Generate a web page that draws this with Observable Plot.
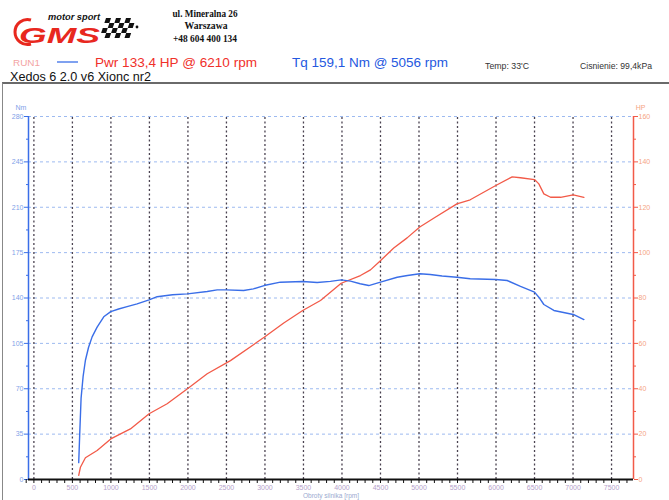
<!DOCTYPE html>
<html>
<head>
<meta charset="utf-8">
<script src="https://cdn.jsdelivr.net/npm/d3@7"></script>
<script src="https://cdn.jsdelivr.net/npm/@observablehq/plot@0.6"></script>
<style>
  html, body { margin: 0; padding: 0; background: #fff; }
  #page { position: relative; width: 669px; height: 500px; overflow: hidden; background: #fff; font-family: "Liberation Sans", Arial, sans-serif; }
  #header { position: absolute; left: 0; top: 0; }
  #frame { position: absolute; left: 2px; top: 82px; width: 700px; height: 500px; border-top: 2px solid #6a6a6a; border-left: 1px solid #888; box-sizing: border-box; }
  #chart { position: absolute; left: 0; top: 83px; }
</style>
</head>
<body>
<div id="page">
  <svg id="header" width="669" height="83" xmlns="http://www.w3.org/2000/svg">
    <path d="M 31 20 A 12.5 12.5 0 1 0 31 44" fill="none" stroke="#e8281e" stroke-width="3"></path>
    <text x="19" y="43" font-family="Liberation Sans, Arial" font-weight="bold" font-style="italic" font-size="22" fill="#e8281e" textLength="81" lengthAdjust="spacingAndGlyphs">GMS</text>
    <text x="48" y="20" font-family="Liberation Sans, Arial" font-weight="bold" font-style="italic" font-size="8.5" fill="#111" textLength="52" lengthAdjust="spacingAndGlyphs">motor sport</text>
    <g id="flag" transform="translate(106,18) skewX(-18)"></g>
    <circle cx="137" cy="27" r="1.4" fill="#111"></circle>
    <text x="205" y="16.5" text-anchor="middle" font-family="Liberation Serif, serif" font-weight="bold" font-size="10.5" fill="#111" textLength="65" lengthAdjust="spacingAndGlyphs">ul. Mineralna 26</text>
    <text x="206" y="28.5" text-anchor="middle" font-family="Liberation Serif, serif" font-weight="bold" font-size="10.5" fill="#111" textLength="43" lengthAdjust="spacingAndGlyphs">Warszawa</text>
    <text x="205" y="42.3" text-anchor="middle" font-family="Liberation Serif, serif" font-weight="bold" font-size="10.5" fill="#111" textLength="64" lengthAdjust="spacingAndGlyphs">+48 604 400 134</text>
    <text x="13" y="66" font-size="8.5" fill="#f3a3a3" textLength="27" lengthAdjust="spacingAndGlyphs">RUN1</text>
    <line x1="57" x2="78" y1="62" y2="62" stroke="#3a6ee8" stroke-width="1.3"></line>
    <text x="95" y="67" font-size="13.5" fill="#f0302a" textLength="162" lengthAdjust="spacingAndGlyphs">Pwr 133,4 HP @ 6210 rpm</text>
    <text x="292" y="67" font-size="13.5" fill="#2458e0" textLength="156" lengthAdjust="spacingAndGlyphs">Tq 159,1 Nm @ 5056 rpm</text>
    <text x="485" y="69" font-size="8.8" fill="#333" textLength="44" lengthAdjust="spacingAndGlyphs">Temp: 33'C</text>
    <text x="580" y="69" font-size="8.8" fill="#333" textLength="72" lengthAdjust="spacingAndGlyphs">Cisnienie: 99,4kPa</text>
    <text x="10" y="81" font-size="12.6" fill="#111" textLength="141" lengthAdjust="spacingAndGlyphs">Xedos 6 2.0 v6 Xionc nr2</text>
  </svg>
  <div id="frame"></div>
  <div id="chart"></div>
</div>
<script>
// ---- data ----
const torqueRpm = [582, 595, 613, 640, 669, 710, 756, 821, 907, 998, 1100, 1210, 1340, 1496, 1600, 1800, 1994, 2250, 2380, 2496, 2723, 2850, 2989, 3200, 3490, 3678, 3850, 3990, 4110, 4236, 4348, 4500, 4717, 4850, 5010, 5146, 5300, 5492, 5665, 5997, 6145, 6318, 6500, 6556, 6621, 6751, 7003, 7141];
const torqueNm  = [13, 35, 63, 80, 92, 102, 110, 117.5, 125.5, 129.5, 131.5, 133.4, 135.5, 138.6, 141, 142.5, 143.2, 145, 146.3, 146.3, 145.8, 147, 149.6, 152.2, 152.7, 152, 152.8, 154, 153, 151, 149.6, 152.2, 156, 157.4, 158.7, 158.1, 157, 156, 154.8, 154.3, 153.5, 148.9, 144.5, 140.6, 135, 130.4, 127.3, 123.4];
const powerRpm  = [582, 604, 669, 821, 998, 1253, 1496, 1730, 1994, 2250, 2552, 2990, 3244, 3490, 3721, 3990, 4240, 4370, 4478, 4672, 4846, 5010, 5211, 5492, 5665, 5997, 6210, 6318, 6500, 6556, 6621, 6708, 6838, 7003, 7141];
const powerHp   = [1.8, 5.4, 9.6, 12.8, 17.9, 22.3, 29, 33.4, 40, 46.6, 52.4, 62.7, 69, 74.5, 78.9, 86.5, 89.9, 92.4, 95.8, 102, 106.5, 111.3, 115.6, 121.5, 123.3, 129.6, 133.4, 133, 132.2, 130.3, 125.9, 124.4, 124.4, 125.5, 124.4];

const nmTicks    = [0, 35, 70, 105, 140, 175, 210, 245, 280];
const nmMinor    = [17.5, 52.5, 87.5, 122.5, 157.5, 192.5, 227.5, 262.5];
const hpTicks    = [0, 20, 40, 60, 80, 100, 120, 140, 160];
const hpMinor    = [10, 30, 50, 70, 90, 110, 130, 150];
const rpmTicks   = [0, 500, 1000, 1500, 2000, 2500, 3000, 3500, 4000, 4500, 5000, 5500, 6000, 6500, 7000, 7500];
const rpmMinor   = d3.range(-100, 7800, 100);

const nmMax = 280, hpMax = 160;
const k = nmMax / hpMax; // HP -> left-axis units

// flag decoration
(function(){
  const g = document.getElementById("flag");
  const s = 5;
  for (let r = 0; r < 4; r++) for (let c = 0; c < 6; c++) {
    if ((r + c) % 2 === 0) {
      const rect = document.createElementNS("http://www.w3.org/2000/svg", "rect");
      rect.setAttribute("x", c * s); rect.setAttribute("y", r * s);
      rect.setAttribute("width", s); rect.setAttribute("height", s);
      rect.setAttribute("fill", "#111");
      g.appendChild(rect);
    }
  }
})();

const torque = torqueRpm.map((r, i) => ({rpm: r, v: torqueNm[i]}));
const power = powerRpm.map((r, i) => ({rpm: r, v: powerHp[i] * k}));

const blue = "#3a6ee8", red = "#f25a48";

const chart = Plot.plot({
  width: 669,
  height: 417,
  marginLeft: 28,
  marginRight: 36,
  marginTop: 33,
  marginBottom: 21,
  x: {domain: [-70, 7785]},
  y: {domain: [0, nmMax]},
  style: {background: "transparent", fontFamily: "Liberation Sans, Arial, sans-serif", fontSize: "7px", overflow: "visible"},
  marks: [
    Plot.gridY(nmTicks.slice(1), {stroke: "#9dbaf0", strokeOpacity: 1, strokeWidth: 1, strokeDasharray: "3,3"}),
    Plot.ruleX(rpmTicks, {y1: 0, y2: nmMax, stroke: "#4a4250", strokeWidth: 1.3, strokeDasharray: "2,2.5"}),
    // left axis
    Plot.ruleX([-70], {stroke: blue, strokeWidth: 1.5}),
    Plot.axisY(nmTicks, {anchor: "left", tickSize: 4, tickFormat: () => "", color: blue, label: null}),
    Plot.axisY(nmMinor, {anchor: "left", tickSize: 2, tickFormat: () => "", color: blue, label: null}),
    Plot.axisY(nmTicks, {anchor: "left", tickSize: 0, tickPadding: 5, tickFormat: d => String(d), color: "#7f9fe8", label: null}),
    // right axis
    Plot.ruleX([7785], {stroke: red, strokeWidth: 1.5}),
    Plot.axisY(hpTicks.map(h => h * k), {anchor: "right", tickSize: 4, tickFormat: () => "", color: red, label: null}),
    Plot.axisY(hpMinor.map(h => h * k), {anchor: "right", tickSize: 2, tickFormat: () => "", color: red, label: null}),
    Plot.axisY(hpTicks.map(h => h * k), {anchor: "right", tickSize: 0, tickPadding: 5, tickFormat: d => String(Math.round(d / k)), color: "#f5a585", label: null}),
    // bottom axis
    Plot.axisX(rpmMinor, {anchor: "bottom", tickSize: 4, tickFormat: () => "", color: "#111", label: null}),
    Plot.axisX(rpmTicks, {anchor: "bottom", tickSize: 0, tickPadding: 6, tickFormat: d => String(d), color: "#b6a3cc", label: null}),
    Plot.ruleY([0], {stroke: "#111", strokeWidth: 2}),
    // axis titles
    Plot.text(["Obroty silnika [rpm]"], {frameAnchor: "bottom", dy: 18, fill: "#9aaad0", fontSize: 6.5}),
    Plot.text(["Nm"], {frameAnchor: "top-left", dx: -13, dy: -11, fill: "#7f9fe8", fontSize: 7}),
    Plot.text(["HP"], {frameAnchor: "top-right", dx: 12, dy: -11, fill: "#f5a585", fontSize: 7}),
    // curves
    Plot.line(power, {x: "rpm", y: "v", stroke: red, strokeWidth: 1.3}),
    Plot.line(torque, {x: "rpm", y: "v", stroke: blue, strokeWidth: 1.4})
  ]
});
document.getElementById("chart").appendChild(chart);
</script>
</body>
</html>
